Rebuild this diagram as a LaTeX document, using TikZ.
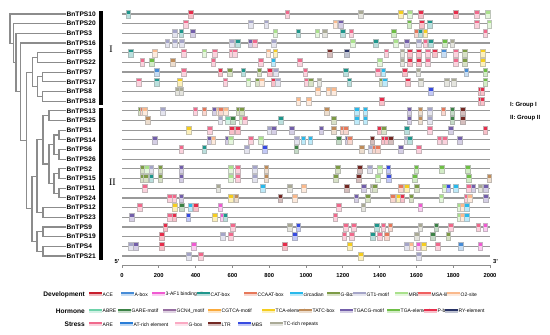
\documentclass[tikz,border=0pt]{standalone}
\usepackage{fontspec}
\setmainfont{Liberation Sans}
\newfontfamily\romanfont{Liberation Serif}
\usepackage{xcolor}
\usepackage{tikz}
\usetikzlibrary{positioning,calc}

\definecolor{ace}{RGB}{200,30,45}
\definecolor{abox}{RGB}{70,140,215}
\definecolor{afone}{RGB}{240,90,210}
\definecolor{catbox}{RGB}{30,150,140}
\definecolor{ccaat}{RGB}{230,120,90}
\definecolor{circadian}{RGB}{40,185,235}
\definecolor{gbox}{RGB}{125,155,70}
\definecolor{gtone}{RGB}{165,165,200}
\definecolor{mre}{RGB}{170,225,140}
\definecolor{msa}{RGB}{240,95,95}
\definecolor{otwo}{RGB}{250,185,140}
\definecolor{abre}{RGB}{110,210,170}
\definecolor{gare}{RGB}{60,130,70}
\definecolor{gcn}{RGB}{150,110,160}
\definecolor{cgtca}{RGB}{250,170,60}
\definecolor{tca}{RGB}{245,205,30}
\definecolor{tatc}{RGB}{190,140,90}
\definecolor{tgacg}{RGB}{115,95,170}
\definecolor{tga}{RGB}{110,190,70}
\definecolor{pbox}{RGB}{230,45,75}
\definecolor{ry}{RGB}{40,50,100}
\definecolor{are}{RGB}{240,105,140}
\definecolor{atrich}{RGB}{40,125,215}
\definecolor{gboxs}{RGB}{250,170,195}
\definecolor{ltr}{RGB}{115,40,35}
\definecolor{mbs}{RGB}{55,75,225}
\definecolor{tcrich}{RGB}{170,170,150}

\begin{document}
\begin{tikzpicture}[x=1pt,y=-1pt,
  lbl/.style={anchor=west,inner sep=0.5pt,font=\fontsize{6.6}{7}\selectfont\bfseries},
  tree/.style={draw=black!45,line width=1.1pt},
  gene/.style={draw=black!40,line width=1.2pt},
  axis/.style={draw=black!45,line width=0.8pt},
  tick/.style={inner sep=0pt,font=\fontsize{5.8}{6}\selectfont\bfseries},
  cat/.style={anchor=east,inner sep=0pt,font=\fontsize{6.6}{7}\selectfont\bfseries},
  item/.style={anchor=west,inner sep=0pt,font=\fontsize{5}{5.5}\selectfont},
  grp/.style={anchor=west,inner sep=0pt,font=\fontsize{6}{7}\selectfont\bfseries}]
\useasboundingbox (0,0) rectangle (550,335);

% genes and their cis-elements (positions in bp)
\foreach \name/\boxes [count=\i from 0] in {
  BnTPS10/{33/catbox,375/pbox,897/are,1299/tcrich,1516/tca,1565/mre,1625/pbox,1815/pbox,1929/are,1989/mre},
  BnTPS20/{348/are,701/gtone,783/gtone,1158/otwo,1190/tgacg,1560/tga,1630/pbox,1674/catbox,1929/are,1995/mre},
  BnTPS3/{288/gtone,321/catbox,386/tgacg,832/mre,957/catbox,1060/mre,1103/tcrich,1201/catbox,1245/are,1478/tga,1603/ccaat,1620/catbox,1647/tca,1973/are},
  BnTPS16/{245/gtone,288/gtone,326/gtone,598/gtone,630/catbox,696/tgacg,723/are,826/gtone,1255/mre,1380/catbox,1489/mre,1549/tgacg,1614/gtone,1647/are,1679/catbox,1755/tga,1794/tcrich},
  BnTPS5/{49/catbox,179/otwo,337/are,446/mre,505/are,598/are,614/are,794/otwo,832/tca,1130/ltr,1223/ry,1435/are,1522/tcrich,1565/pbox,1614/pbox,1663/are,1701/pbox,1750/abox,1815/are,1864/gbox,1962/tca},
  BnTPS22/{109/are,163/tga,277/tatc,495/are,755/are,821/circadian,967/are,1402/mre,1522/tcrich,1565/pbox,1614/pbox,1663/are,1815/are,1864/gbox,1962/tca},
  BnTPS7/{190/abox,337/are,533/pbox,587/gbox,658/catbox,745/gbox,804/pbox,837/gtone,995/are,1217/catbox,1391/are,1419/circadian,1538/pbox,1609/tcrich,1870/abox,1973/tga},
  BnTPS17/{92/are,190/catbox,315/tca,560/are,685/mre,734/gbox,761/otwo,821/pbox,848/gtone,1005/are,1027/gbox,1071/tcrich,1234/catbox,1408/gbox,1429/circadian,1554/pbox,1625/tcrich,1766/tcrich,1804/tcrich,1973/tga},
  BnTPS8/{304/tcrich,321/tcrich,1065/otwo,1120/otwo,1152/otwo,1679/mbs,1946/pbox,1957/pbox},
  BnTPS18/{957/otwo,1016/otwo,1413/pbox,1946/pbox,1957/pbox},
  BnTPS13/{103/gbox,114/ccaat,125/otwo,223/gtone,397/are,446/ccaat,505/tgacg,527/otwo,538/ccaat,565/otwo,636/gbox,652/gbox,1114/tatc,1277/circadian,1321/circadian,1560/tgacg,1620/tatc,1674/gtone,1745/ccaat,1794/gare,1853/ltr},
  BnTPS25/{141/tatc,533/gtone,576/abre,603/gare,652/mre,668/are,864/catbox,1152/gbox,1277/circadian,1321/circadian,1560/tgacg,1620/tatc,1674/gtone,1794/gare,1853/ltr},
  BnTPS1/{364/tca,478/are,598/pbox,630/pbox,804/gtone,826/tgacg,924/tgacg,1082/tgacg,1152/tatc,1201/ccaat,1217/ccaat,1402/pbox,1424/gbox,1549/catbox,1674/are,1788/tgacg,1973/pbox},
  BnTPS14/{179/tgacg,478/tgacg,495/otwo,571/tgacg,592/mre,701/are,755/mre,951/gtone,984/circadian,1022/circadian,1179/gare,1228/tgacg,1239/ccaat,1359/ltr,1424/pbox,1435/pbox,1462/ltr,1549/gtone,1565/catbox,1723/are,1755/are,1837/tgacg},
  BnTPS6/{321/are,446/catbox,679/gtone,777/mbs,946/gare,1304/tatc,1353/gtone,1370/ccaat,1391/ccaat,1516/tgacg,1614/are},
  BnTPS26/{},
  BnTPS2/{109/gbox,136/mre,158/gtone,207/gbox,321/tgacg,592/mre,630/are,723/gtone,783/tatc,1174/gbox,1293/ltr,1348/gtone,1402/mre,1446/mbs,1598/tga,1739/tga,1880/tga},
  BnTPS15/{109/gbox,130/gbox,158/catbox,207/gbox,321/tgacg,592/mre,630/are,723/gtone,783/tatc,1163/gbox,1288/ltr,1391/mre,1451/mbs,1592/tga,1886/tga,1995/tatc},
  BnTPS11/{125/are,522/tcrich,766/circadian,913/tcrich,989/otwo,1223/ltr,1315/tgacg,1359/tcrich,1375/gbox,1516/ccaat,1549/tca,1603/gbox,1755/mre,1772/mbs,1815/circadian,1886/are,1908/tgacg,1946/tcrich,1978/tgacg},
  BnTPS24/{261/are,283/are,321/tgacg,592/tca,620/tatc,859/ltr,940/otwo,1272/tgacg,1337/gbox,1473/ccaat,1505/tca,1522/pbox,1571/gbox,1734/mre,1870/are,1891/otwo,1978/tgacg},
  BnTPS12/{98/are,288/tca,326/gare,370/circadian,402/pbox,533/afone,1179/are,1310/tcrich,1620/afone,1832/mre,1853/otwo,1875/circadian},
  BnTPS23/{54/tgacg,261/are,283/pbox,359/mbs,505/tca,549/afone,560/catbox,1158/are,1832/mre,1853/otwo,1875/circadian},
  BnTPS9/{234/pbox,603/are,913/tcrich,957/mbs,1217/are,1261/are,1386/catbox,1419/are,1457/ccaat,1620/tcrich,1707/gare,1788/are,1935/are,1973/afone},
  BnTPS19/{217/pbox,549/gtone,592/are,940/mbs,1207/are,1250/are,1364/catbox,1402/are,1440/ccaat,1603/tcrich,1690/gare,1772/gbox},
  BnTPS4/{49/gtone,76/tgacg,217/pbox,391/afone,886/pbox,1239/tca,1549/gtone,1571/otwo,1609/afone,1641/tca,1717/are,1842/abox,1946/afone},
  BnTPS21/{364/gtone,429/are,1299/tca,1614/gtone}}{
  \pgfmathsetmacro\y{14+9.68*\i}
  \node[lbl] (l\i) at (66,\y) {\name};
  \begin{scope}[shift={(122,0)},x=0.184pt]
    \draw[gene] (0,\y) -- (2000,\y);
    \foreach \p/\c in \boxes {
      \fill[\c!30] (\p-13,\y-4) rectangle (\p+13,\y+4);
      \fill[\c] (\p-13,\y-4) rectangle (\p+13,\y-0.3);
      \draw[\c!40!black!35,line width=0.3pt] (\p-13,\y-4) rectangle (\p+13,\y+4);
    }
  \end{scope}
}

% tree
\coordinate (root) at (10,28.56);
\coordinate (A) at (13.3,43.12);
\coordinate (B) at (16,62.55);
\coordinate (C) at (20.7,91.75);
\coordinate (D) at (26.5,140.45);
\coordinate (g5) at (32.3,72.08);
\coordinate (g1) at (37.3,57.56);
\coordinate (g4) at (37.3,86.6);
\coordinate (g2) at (42.3,76.92);
\coordinate (g3) at (42.3,96.28);
\coordinate (GR) at (32,208.81);
\coordinate (U) at (37,176.14);
\coordinate (n9) at (43,139.84);
\coordinate (n1) at (49,115.64);
\coordinate (n8) at (49,164.04);
\coordinate (n4) at (54,144.68);
\coordinate (n2) at (59,135);
\coordinate (n3) at (59,154.36);
\coordinate (n7) at (54,183.4);
\coordinate (n5) at (59,173.72);
\coordinate (n6) at (59,193.08);
\coordinate (n10) at (43,212.44);
\coordinate (n13) at (37,241.48);
\coordinate (n11) at (43,231.8);
\coordinate (n12) at (43,251.16);
\foreach \p/\a/\b in {root/l0.west/A, A/l1.west/B, B/l2.west/C, C/l3.west/D,
  D/g5/GR, g5/g1/g4, g1/l4.west/l5.west, g4/g2/g3, g2/l6.west/l7.west, g3/l8.west/l9.west,
  GR/U/n13, U/n9/n10, n9/n1/n8, n1/l10.west/l11.west, n8/n4/n7, n4/n2/n3,
  n2/l12.west/l13.west, n3/l14.west/l15.west, n7/n5/n6, n5/l16.west/l17.west,
  n6/l18.west/l19.west, n10/l20.west/l21.west, n13/n11/n12,
  n11/l22.west/l23.west, n12/l24.west/l25.west}
  \draw[tree] (\a) -| (\p) |- (\b);

% groups
\fill (99,10.5) rectangle (102.5,104.5);
\fill (99,107.5) rectangle (102.5,259.5);
\node[font=\romanfont\fontsize{10}{10}\selectfont,inner sep=0pt] (gI) at (111,49.5) {I};
\node[font=\romanfont\fontsize{10}{10}\selectfont,inner sep=0pt] (gII) at (112.5,182.5) {II};
\node[grp] (keyI) at (510,105) {I: Group I};
\node[grp] (keyII) at (510,117.7) {II: Group II};

% axis
\begin{scope}[shift={(122,0)},x=0.184pt]
  \draw[axis] (0,265) -- (2000,265);
  \foreach \t [count=\k] in {0,200,...,2000} {
    \draw[axis] (\t,265) -- (\t,268);
    \node[tick] (tk\k) at (\t,275.5) {\t};
  }
\end{scope}
\node[tick] (five) at (117,262) {5'};
\node[tick] (three) at (495.5,262) {3'};

% legend
\node[cat] (dev) at (85,294.3) {Development};
\node[cat] (hor) at (85,311) {Hormone};
\node[cat] (str) at (85,324.3) {Stress};
\foreach \x/\c/\t [count=\k] in {89/ace/ACE, 121/abox/A-box, 152/afone/3-AF1 binding site,
  197/catbox/CAT-box, 244/ccaat/CCAAT-box, 290/circadian/circadian, 327/gbox/G-Box,
  353/gtone/GT1-motif, 395/mre/MRE, 418/msa/MSA-like, 447/otwo/O2-site} {
  \fill[\c!30] (\x,292.4) rectangle (\x+12.5,296.2);
  \fill[\c] (\x,292.4) rectangle (\x+12.5,294.1);
  \node[item] (devk\k) at (\x+13.5,294.3) {\t};
}
\foreach \x/\c/\t [count=\k] in {89/abre/ABRE, 118/gare/GARE-motif, 163/gcn/GCN4\_motif,
  208/cgtca/CGTCA-motif, 262/tca/TCA-element, 299/tatc/TATC-box, 340/tgacg/TGACG-motif,
  387/tga/TGA-element, 424/pbox/P-box, 445/ry/RY-element} {
  \fill[\c!30] (\x,309.1) rectangle (\x+12.5,312.9);
  \fill[\c] (\x,309.1) rectangle (\x+12.5,310.8);
  \node[item] (hork\k) at (\x+13.5,311) {\t};
}
\foreach \x/\c/\t [count=\k] in {89/are/ARE, 120/atrich/AT-rich element, 175/gboxs/G-box,
  208/ltr/LTR, 238/mbs/MBS, 270/tcrich/TC-rich repeats} {
  \fill[\c!30] (\x,322.4) rectangle (\x+12.5,326.2);
  \fill[\c] (\x,322.4) rectangle (\x+12.5,324.1);
  \node[item] (strk\k) at (\x+13.5,324.3) {\t};
}
\end{tikzpicture}
\end{document}
